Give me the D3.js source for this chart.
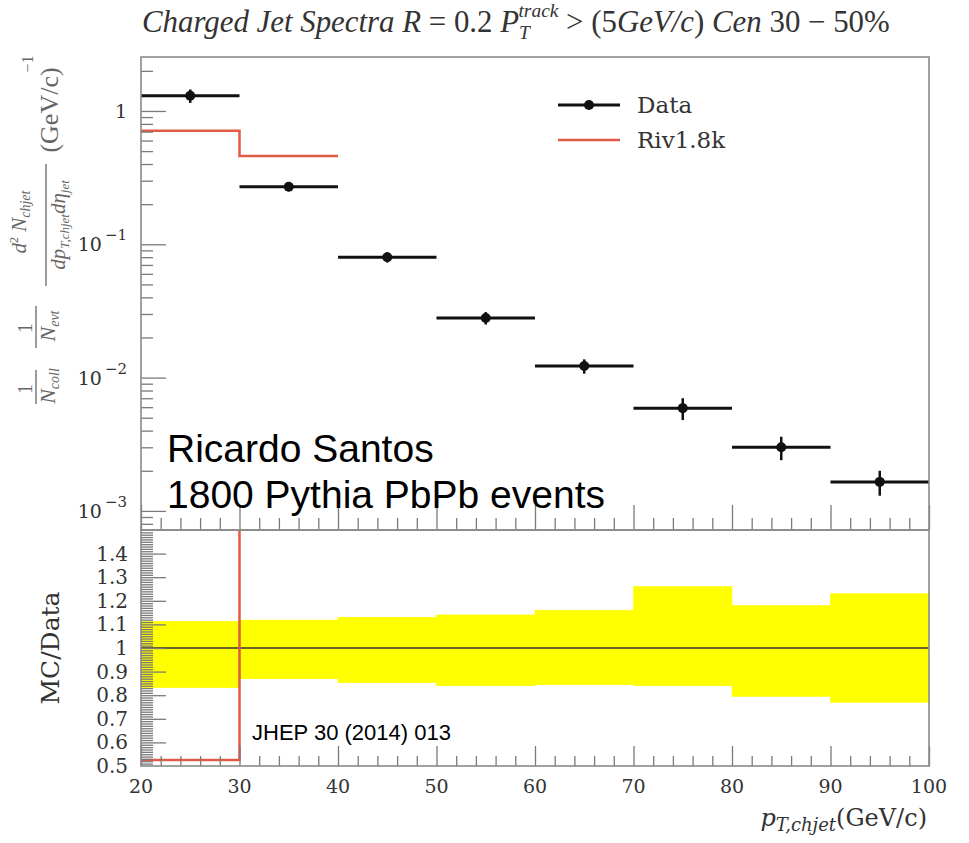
<!DOCTYPE html>
<html><head><meta charset="utf-8">
<script src="https://cdn.jsdelivr.net/npm/d3@7"></script>
<style>body{margin:0;background:#fff}</style>
</head><body><svg id="c" width="969" height="843"></svg>
<script>
// ---- data ----
const xTicks = [20, 30, 40, 50, 60, 70, 80, 90, 100];
const binLo = [20, 30, 40, 50, 60, 70, 80, 90];
const binHi = [30, 40, 50, 60, 70, 80, 90, 100];
const dataX = [25, 35, 45, 55, 65, 75, 85, 95];
const dataY = [1.30, 0.27, 0.080, 0.028, 0.0122, 0.0059, 0.0030, 0.00165];
const dataErr = [0.15, 0.02, 0.007, 0.003, 0.0015, 0.0011, 0.0006, 0.00035];
const mcLo = [20, 30];
const mcHi = [30, 40];
const mcY = [0.71, 0.46];
const ratioMC = [0.525, 1.7];
const bandHi = [1.113, 1.118, 1.13, 1.14, 1.16, 1.26, 1.18, 1.23];
const bandLo = [0.832, 0.87, 0.853, 0.84, 0.845, 0.84, 0.795, 0.77];
const logMajor = [1e-3, 1e-2, 1e-1, 1];
const logLabels = [["10", "\u22123"], ["10", "\u22122"], ["10", "\u22121"], ["1", ""]];
const ratioTicks = [0.5, 0.6, 0.7, 0.8, 0.9, 1.0, 1.1, 1.2, 1.3, 1.4];
const ratioLabels = ["0.5", "0.6", "0.7", "0.8", "0.9", "1", "1.1", "1.2", "1.3", "1.4"];
const legendNames = ["Data", "Riv1.8k"];

// ---- layout ----
const L = 141, R = 929, T = 57, M = 530, B = 766;
const svg = d3.select("#c");
const x = d3.scaleLinear([20, 100], [L, R]);
const yT = d3.scaleLog([7.19e-4, 2.54], [M, T]);
const yR = d3.scaleLinear([0.5, 1.5], [B, M]);
const serif = "'DejaVu Serif', serif";
const tickCol = "#7a7a7a";
const txtCol = "#333";

// clip paths
const defs = svg.append("defs");
defs.append("clipPath").attr("id", "cpT").append("rect").attr("x", L).attr("y", T).attr("width", R - L).attr("height", M - T);
defs.append("clipPath").attr("id", "cpR").append("rect").attr("x", L).attr("y", M).attr("width", R - L).attr("height", B - M);

// ---- ratio panel ----
const gR = svg.append("g").attr("clip-path", "url(#cpR)");
gR.selectAll("rect.band").data(binLo).join("rect")
  .attr("x", (d) => x(d)).attr("width", (d, i) => x(binHi[i]) - x(d))
  .attr("y", (d, i) => yR(bandHi[i])).attr("height", (d, i) => yR(bandLo[i]) - yR(bandHi[i]))
  .attr("fill", "#ffff00").attr("stroke", "#ffff00").attr("stroke-width", 0.6);
gR.append("line").attr("x1", x(20)).attr("x2", x(100)).attr("y1", yR(1)).attr("y2", yR(1))
  .attr("stroke", "#333").attr("stroke-width", 1.5);
const rPts = [];
mcLo.forEach((d, i) => { rPts.push([x(d), yR(ratioMC[i])]); rPts.push([x(mcHi[i]), yR(ratioMC[i])]); });
gR.append("path").attr("d", d3.line()(rPts)).attr("fill", "none").attr("stroke", "#e05a45").attr("stroke-width", 2.5);

// ---- top panel ----
const gT = svg.append("g").attr("clip-path", "url(#cpT)");
const mPts = [];
mcLo.forEach((d, i) => { mPts.push([x(d), yT(mcY[i])]); mPts.push([x(mcHi[i]), yT(mcY[i])]); });
gT.append("path").attr("d", d3.line()(mPts)).attr("fill", "none").attr("stroke", "#e05a45").attr("stroke-width", 2.5);
gT.selectAll("line.h").data(dataX).join("line")
  .attr("x1", (d, i) => x(binLo[i])).attr("x2", (d, i) => x(binHi[i]))
  .attr("y1", (d, i) => yT(dataY[i])).attr("y2", (d, i) => yT(dataY[i]))
  .attr("stroke", "#111").attr("stroke-width", 3);
gT.selectAll("line.v").data(dataX).join("line")
  .attr("x1", (d) => x(d)).attr("x2", (d) => x(d))
  .attr("y1", (d, i) => yT(dataY[i] + dataErr[i])).attr("y2", (d, i) => yT(dataY[i] - dataErr[i]))
  .attr("stroke", "#111").attr("stroke-width", 2.5);
gT.selectAll("circle").data(dataX).join("circle")
  .attr("cx", (d) => x(d)).attr("cy", (d, i) => yT(dataY[i])).attr("r", 5).attr("fill", "#111");

// ---- ticks ----
function inward(axis, g) { g.call(axis); g.select(".domain").remove(); g.selectAll("text").remove(); g.selectAll("line").attr("stroke", tickCol).attr("stroke-width", 1.3); }
const logMinor = [];
[1e-4, 1e-3, 1e-2, 1e-1, 1].forEach((dec) => { for (let k = 2; k <= 9; k++) { const v = dec * k; if (v > 7.19e-4 && v < 2.54) logMinor.push(v); } });
inward(d3.axisLeft(yT).tickValues(logMajor).tickSize(-25), svg.append("g").attr("transform", `translate(${L},0)`));
inward(d3.axisLeft(yT).tickValues(logMinor).tickSize(-12), svg.append("g").attr("transform", `translate(${L},0)`));
const xMinor = d3.range(22, 100, 2).filter((v) => v % 10 !== 0);
inward(d3.axisBottom(x).tickValues(xTicks).tickSize(-25), svg.append("g").attr("transform", `translate(0,${M})`));
inward(d3.axisBottom(x).tickValues(xMinor).tickSize(-12), svg.append("g").attr("transform", `translate(0,${M})`));
inward(d3.axisBottom(x).tickValues(xTicks).tickSize(-20), svg.append("g").attr("transform", `translate(0,${B})`));
inward(d3.axisBottom(x).tickValues(xMinor).tickSize(-10), svg.append("g").attr("transform", `translate(0,${B})`));
const rMinor = d3.range(51, 150, 1).filter((v) => v % 10 !== 0).map((v) => v / 100);
inward(d3.axisLeft(yR).tickValues(ratioTicks.slice(1)).tickSize(-25), svg.append("g").attr("transform", `translate(${L},0)`));
inward(d3.axisLeft(yR).tickValues(rMinor).tickSize(-12), svg.append("g").attr("transform", `translate(${L},0)`));

// frames
svg.append("rect").attr("x", L).attr("y", T).attr("width", R - L).attr("height", M - T).attr("fill", "none").attr("stroke", "#8a8a8a").attr("stroke-width", 1.6);
svg.append("rect").attr("x", L).attr("y", M).attr("width", R - L).attr("height", B - M).attr("fill", "none").attr("stroke", "#8a8a8a").attr("stroke-width", 1.6);

// ---- tick labels ----
logMajor.forEach((v, i) => {
  const t = svg.append("text").attr("x", 127).attr("y", yT(v) + 7).attr("text-anchor", "end")
    .attr("font-family", serif).attr("font-size", 19).attr("fill", txtCol);
  t.append("tspan").text(logLabels[i][0]);
  if (logLabels[i][1]) t.append("tspan").attr("dy", -11).attr("font-size", 15).attr("dx", 3).text(logLabels[i][1]);
});
ratioTicks.forEach((v, i) => {
  svg.append("text").attr("x", 128).attr("y", yR(v) + 7).attr("text-anchor", "end")
    .attr("font-family", serif).attr("font-size", 20).attr("fill", txtCol).text(ratioLabels[i]);
});
xTicks.forEach((v) => {
  svg.append("text").attr("x", x(v)).attr("y", 793).attr("text-anchor", "middle")
    .attr("font-family", serif).attr("font-size", 19).attr("fill", txtCol).text(v);
});

// axis titles
const xt = svg.append("text").attr("x", R - 2).attr("y", 826).attr("text-anchor", "end")
  .attr("font-family", serif).attr("font-size", 24).attr("fill", txtCol);
xt.append("tspan").attr("font-style", "italic").text("p");
xt.append("tspan").attr("font-style", "italic").attr("font-size", 18).attr("dy", 5).text("T,chjet");
xt.append("tspan").attr("dy", -5).text("(GeV/c)");

svg.append("text").attr("transform", `translate(59,${yR(1)}) rotate(-90)`).attr("text-anchor", "middle")
  .attr("font-family", serif).attr("font-size", 25).attr("fill", txtCol).text("MC/Data");

// y label of top panel (rotated pieces)
function rot(xp, yp, size, parts, col) {
  const t = svg.append("text").attr("transform", `translate(${xp},${yp}) rotate(-90)`).attr("text-anchor", "middle")
    .attr("font-family", "'Liberation Serif', serif").attr("font-size", size).attr("fill", col || "#666");
  parts.forEach((p) => { const s = t.append("tspan").text(p.t); if (p.i) s.attr("font-style", "italic"); if (p.s) s.attr("font-size", p.s); if (p.dy) s.attr("dy", p.dy); });
  return t;
}
function vbar(xp, y1, y2) { svg.append("line").attr("x1", xp).attr("x2", xp).attr("y1", y1).attr("y2", y2).attr("stroke", "#666").attr("stroke-width", 1.3); }
rot(32, 389, 20, [{ t: "1" }]);
vbar(36, 370, 404);
rot(55, 386, 22, [{ t: "N", i: 1 }, { t: "coll", i: 1, s: 14, dy: 4 }]);
rot(32, 328, 20, [{ t: "1" }]);
vbar(36, 306, 348);
rot(55, 326, 22, [{ t: "N", i: 1 }, { t: "evt", i: 1, s: 14, dy: 4 }]);
rot(26, 222, 21, [{ t: "d", i: 1 }, { t: "2", s: 12, dy: -8 }, { t: " N", i: 1, dy: 8 }, { t: "chjet", i: 1, s: 14, dy: 4 }]);
vbar(46, 164, 286);
rot(65, 225, 21, [{ t: "dp", i: 1 }, { t: "T,chjet", i: 1, s: 13, dy: 4 }, { t: "d\u03b7", i: 1, dy: -4 }, { t: "jet", i: 1, s: 13, dy: 4 }]);
rot(58, 110, 26, [{ t: "(GeV/c)" }]);
rot(33, 64, 16, [{ t: "\u22121" }]);

// ---- legend ----
svg.append("line").attr("x1", 558).attr("x2", 620).attr("y1", 105).attr("y2", 105).attr("stroke", "#111").attr("stroke-width", 3);
svg.append("circle").attr("cx", 589).attr("cy", 105).attr("r", 5).attr("fill", "#111");
svg.append("line").attr("x1", 558).attr("x2", 620).attr("y1", 140).attr("y2", 140).attr("stroke", "#e05a45").attr("stroke-width", 2.5);
legendNames.forEach((n, i) => {
  svg.append("text").attr("x", 637).attr("y", 113 + i * 35).attr("font-family", serif).attr("font-size", 23)
    .attr("fill", txtCol).text(n);
});

// ---- annotations ----
const sans = "'Liberation Sans', Arial, sans-serif";
svg.append("text").attr("x", 167).attr("y", 462).attr("font-family", sans).attr("font-size", 39).attr("fill", "#000").text("Ricardo Santos");
svg.append("text").attr("x", 167).attr("y", 508).attr("font-family", sans).attr("font-size", 39).attr("fill", "#000").text("1800 Pythia PbPb events");
svg.append("text").attr("x", 252).attr("y", 740).attr("font-family", sans).attr("font-size", 22).attr("fill", "#000").text("JHEP 30 (2014) 013");

// ---- title ----
const tg = svg.append("g");
const tt = tg.append("text").attr("x", 0).attr("y", 0).attr("font-family", "'Liberation Serif', serif").attr("font-size", 27).attr("fill", txtCol);
tt.append("tspan").attr("font-style", "italic").text("Charged Jet Spectra R ");
tt.append("tspan").text("= 0.2 ");
tt.append("tspan").attr("font-style", "italic").text("P");
tt.append("tspan").attr("font-style", "italic").attr("font-size", 17).attr("dy", 6).text("T");
tt.append("tspan").attr("font-style", "italic").attr("font-size", 17).attr("dx", -10).attr("dy", -19).text("track");
tt.append("tspan").attr("dy", 13).text(" > (5");
tt.append("tspan").attr("font-style", "italic").text("GeV/c");
tt.append("tspan").text(") ");
tt.append("tspan").attr("font-style", "italic").text("Cen");
tt.append("tspan").text(" 30 \u2212 50%");
const bb = tt.node().getBBox();
const sc = 748 / bb.width;
tg.attr("transform", `translate(${142 - bb.x * sc},${32}) scale(${sc})`);
</script>
</body></html>
